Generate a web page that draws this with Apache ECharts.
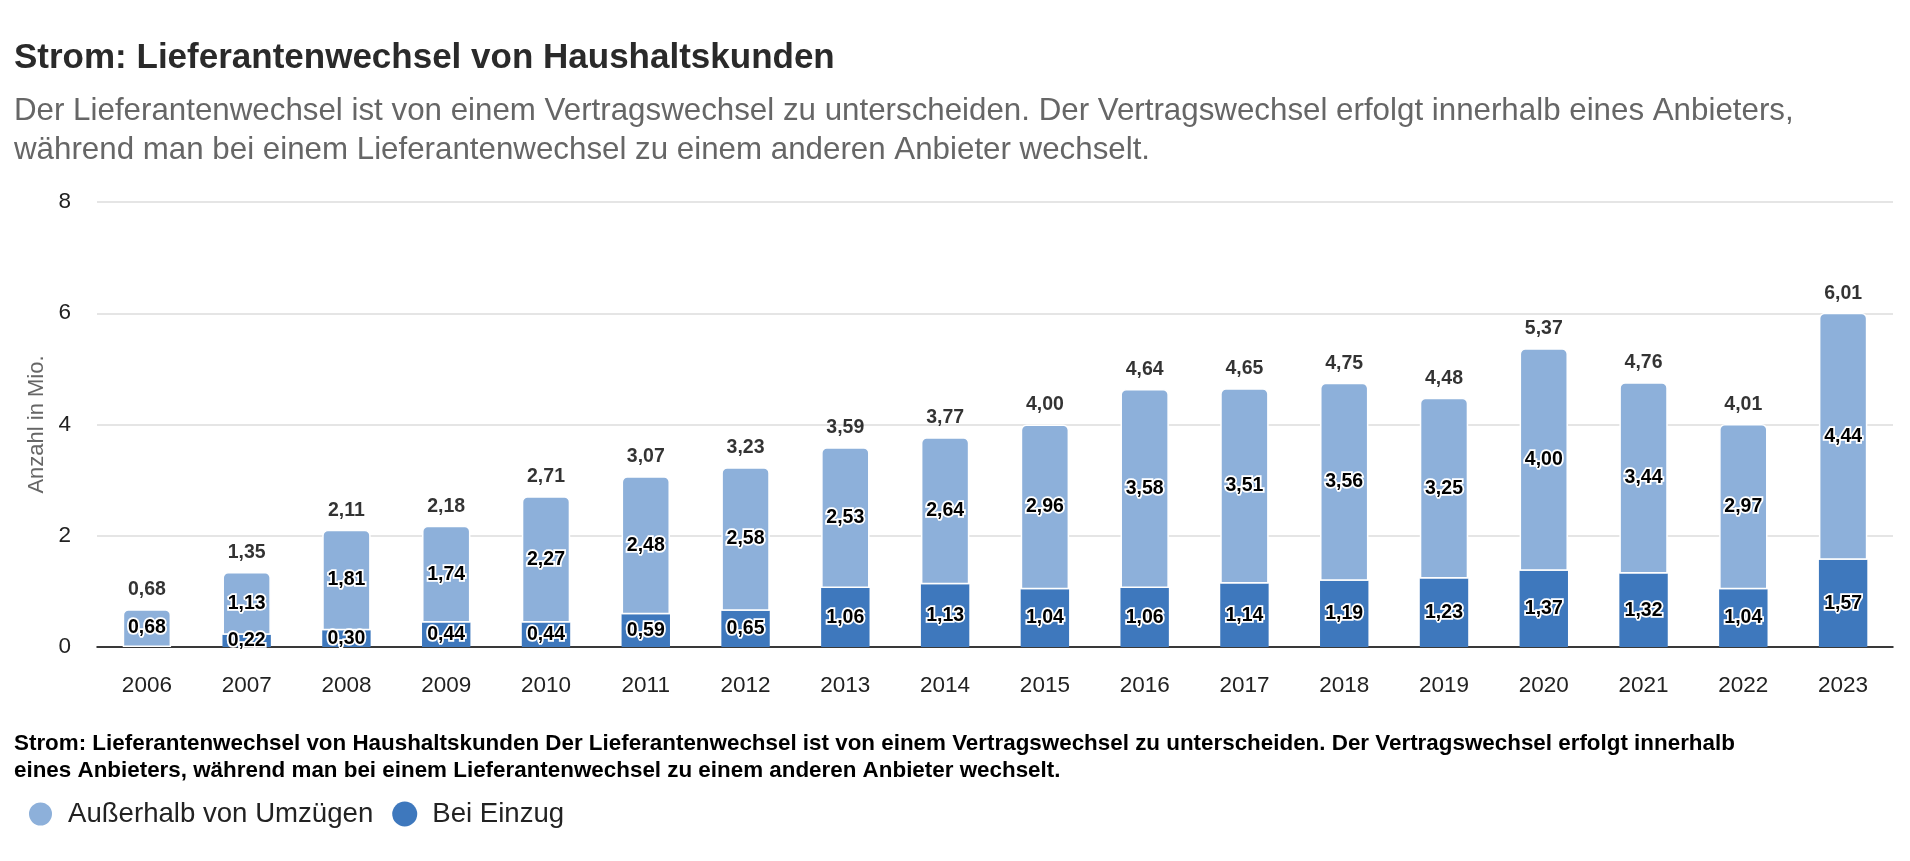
<!DOCTYPE html>
<html>
<head>
<meta charset="utf-8">
<script src="https://cdn.jsdelivr.net/npm/echarts@6/dist/echarts.min.js"></script>
<style>
html,body{margin:0;padding:0;background:#fff;}
#chart{width:1910px;height:861px;}
</style>
</head>
<body>
<div id="chart"></div>
<script>
const years = ['2006','2007','2008','2009','2010','2011','2012','2013','2014','2015','2016','2017','2018','2019','2020','2021','2022','2023'];
const ausserhalb = [0.68,1.13,1.81,1.74,2.27,2.48,2.58,2.53,2.64,2.96,3.58,3.51,3.56,3.25,4.00,3.44,2.97,4.44];
const beiEinzug = [null,0.22,0.30,0.44,0.44,0.59,0.65,1.06,1.13,1.04,1.06,1.14,1.19,1.23,1.37,1.32,1.04,1.57];
const totals = [0.68,1.35,2.11,2.18,2.71,3.07,3.23,3.59,3.77,4.00,4.64,4.65,4.75,4.48,5.37,4.76,4.01,6.01];
const yTicks = [0,2,4,6,8];

const titleText = 'Strom: Lieferantenwechsel von Haushaltskunden';
const subtitleLines = [
  'Der Lieferantenwechsel ist von einem Vertragswechsel zu unterscheiden. Der Vertragswechsel erfolgt innerhalb eines Anbieters,',
  'während man bei einem Lieferantenwechsel zu einem anderen Anbieter wechselt.'
];
const footerLines = [
  'Strom: Lieferantenwechsel von Haushaltskunden Der Lieferantenwechsel ist von einem Vertragswechsel zu unterscheiden. Der Vertragswechsel erfolgt innerhalb',
  'eines Anbieters, während man bei einem Lieferantenwechsel zu einem anderen Anbieter wechselt.'
];
const seriesNames = ['Außerhalb von Umzügen','Bei Einzug'];

const FONT = '"Liberation Sans", Arial, sans-serif';
const LIGHT = '#8db0da';
const DARK = '#3e78bd';
const fmt = v => (v == null ? '' : Number(v).toFixed(2).replace('.', ','));

const chart = echarts.init(document.getElementById('chart'), null, {renderer:'canvas'});
const innerLabel = {
  show: true,
  position: 'inside',
  fontFamily: FONT,
  fontSize: 19.5,
  fontWeight: 'bold',
  color: '#000',
  textBorderColor: '#fff',
  textBorderWidth: 3.5,
  formatter: p => fmt(p.value)
};

chart.setOption({
  animation: false,
  backgroundColor: '#fff',
  title: [
    {text: titleText, left: 14, top: 41, padding: 0,
     textStyle: {fontFamily: FONT, fontSize: 35, fontWeight: 'bold', color: '#2a2a2a'}},
    {text: subtitleLines.join('\n'), left: 14, top: 92, padding: 0,
     textStyle: {fontFamily: FONT, fontSize: 31.3, fontWeight: 'normal', color: '#666', lineHeight: 39}},
    {text: footerLines.join('\n'), left: 14, top: 730, padding: 0,
     textStyle: {fontFamily: FONT, fontSize: 22.4, fontWeight: 'bold', color: '#000', lineHeight: 27}}
  ],
  legend: {
    data: seriesNames,
    left: 27, top: 800, padding: 0,
    icon: 'circle', itemWidth: 25, itemHeight: 25, itemGap: 19,
    textStyle: {fontFamily: FONT, fontSize: 27.6, color: '#222', padding: [0,0,0,10]}
  },
  grid: {left: 97, right: 17, top: 202, bottom: 214},
  xAxis: {
    type: 'category',
    data: years,
    axisLine: {show: true, lineStyle: {color: '#000', width: 1.5}},
    axisTick: {show: false},
    axisLabel: {fontFamily: FONT, fontSize: 22.5, color: '#222', margin: 27}
  },
  yAxis: {
    type: 'value',
    min: yTicks[0], max: yTicks[yTicks.length-1], interval: 2,
    name: 'Anzahl in Mio.',
    nameLocation: 'middle',
    nameGap: 48,
    nameTextStyle: {fontFamily: FONT, fontSize: 22, color: '#666'},
    axisLine: {show: false},
    axisTick: {show: false},
    axisLabel: {fontFamily: FONT, fontSize: 22.5, color: '#222', margin: 26},
    splitLine: {lineStyle: {color: '#dcdcdc', width: 1.5}}
  },
  series: [
    {
      name: seriesNames[1], type: 'bar', stack: 'a', data: beiEinzug, barWidth: '48.5%',
      itemStyle: {color: DARK},
      label: innerLabel
    },
    {
      name: seriesNames[0], type: 'bar', stack: 'a', data: ausserhalb, barWidth: '48.5%',
      itemStyle: {color: LIGHT, borderColor: '#fff', borderWidth: 1.5, borderRadius: [5,5,0,0]},
      label: innerLabel
    },
    {
      name: 'Gesamt', type: 'scatter', data: totals, symbolSize: 1,
      itemStyle: {color: 'rgba(0,0,0,0)'},
      label: {show: true, position: 'top', distance: 9, fontFamily: FONT, fontSize: 19.5, fontWeight: 'bold', color: '#000',
              formatter: p => fmt(p.value)},
      z: 5
    }
  ]
});
</script>
</body>
</html>
